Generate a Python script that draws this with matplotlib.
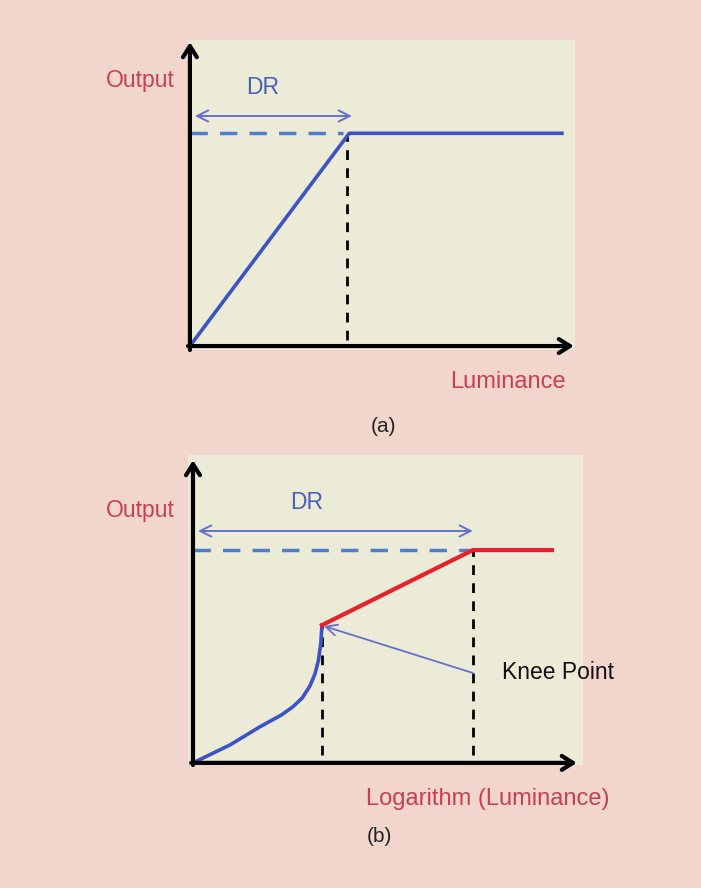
import matplotlib
matplotlib.use("Agg")
import matplotlib.pyplot as plt
from matplotlib.patches import Rectangle

plt.rcParams["font.family"] = ["Liberation Sans", "DejaVu Sans"]

# colours
BG = "#f2d5cc"
PANEL = "#ecebd8"
TXT_RED = "#c8404f"
BLUE = "#3d52c4"
BLUE_DASH = "#4f7fcc"
ARROW_BLUE = "#6670cc"
RED = "#e8202a"

# panel (a): linear response, clipped at saturation
a_x = [0.0, 4.09, 4.15, 9.69]
a_y = [0.0, 6.9, 7.0, 7.0]
a_knee_x = 4.09
a_sat_y = 7.0

# panel (b): log response with knee point
b_low_x = [0.0, 0.96, 1.74, 2.30, 2.60, 2.85, 3.05, 3.18, 3.27, 3.33, 3.36]
b_low_y = [0.0, 0.59, 1.19, 1.58, 1.85, 2.15, 2.55, 2.95, 3.40, 3.95, 4.55]
b_high_x = [3.36, 7.29, 9.35]
b_high_y = [4.55, 7.03, 7.03]
b_knee = (3.36, 4.55)
b_sat = (7.29, 7.03)


def axis_arrows(ax, ybot):
    kw = dict(arrowstyle="->,head_length=0.8,head_width=0.5", color="black", lw=3,
              shrinkA=0, shrinkB=0)
    ax.annotate("", xy=(0, 10.0), xytext=(0, ybot), arrowprops=kw, annotation_clip=False)
    ax.annotate("", xy=(10.0, 0), xytext=(-0.05, 0), arrowprops=kw, annotation_clip=False)


def dr_arrow(ax, x0, x1, y):
    ax.annotate("", xy=(x1, y), xytext=(x0, y),
                arrowprops=dict(arrowstyle="<->,head_length=0.8,head_width=0.4",
                                color=ARROW_BLUE, lw=1.4, shrinkA=0, shrinkB=0))


fig = plt.figure(figsize=(7.01, 8.88), dpi=100)
fig.patch.set_facecolor(BG)

# ---- panel (a)
ax = fig.add_axes([188 / 701, 1 - 350 / 888, 387 / 701, 310 / 888])
ax.set_xlim(-0.05, 10.03)
ax.set_ylim(-0.13, 10.07)
ax.axis("off")
ax.add_patch(Rectangle((-0.05, -0.13), 10.08, 10.2, facecolor=PANEL, edgecolor="none", zorder=0))
ax.plot([0, a_knee_x - 0.1], [a_sat_y, a_sat_y], color=BLUE_DASH, lw=2.5, dashes=(5, 3.5), zorder=2)
ax.plot([a_knee_x, a_knee_x], [0.2, a_y[1]], color="black", lw=2, dashes=(3.5, 3), zorder=2)
ax.plot(a_x, a_y, color=BLUE, lw=2.6, solid_joinstyle="round", zorder=3)
axis_arrows(ax, -0.13)
dr_arrow(ax, 0.13, 4.22, 7.57)
ax.text(1.9, 8.5, "DR", color="#4860b8", fontsize=16.5, ha="center", va="center")
ax.text(-1.3, 8.75, "Output", color=TXT_RED, fontsize=16.5, ha="center", va="center", clip_on=False)
ax.text(8.28, -1.18, "Luminance", color=TXT_RED, fontsize=17, ha="center", va="center", clip_on=False)
ax.text(5.03, -2.66, "(a)", color="#222222", fontsize=15, ha="center", va="center", clip_on=False)

# ---- panel (b)
bx = fig.add_axes([188 / 701, 1 - 765 / 888, 395 / 701, 310 / 888])
bx.set_xlim(-0.13, 10.16)
bx.set_ylim(-0.07, 10.17)
bx.axis("off")
bx.add_patch(Rectangle((-0.13, -0.07), 10.29, 10.24, facecolor=PANEL, edgecolor="none", zorder=0))
bx.plot([0, b_sat[0] - 0.1], [b_sat[1], b_sat[1]], color=BLUE_DASH, lw=2.5, dashes=(5, 3.5), zorder=2)
bx.plot([b_knee[0], b_knee[0]], [0.25, b_knee[1]], color="black", lw=2, dashes=(3.5, 3), zorder=2)
bx.plot([b_sat[0], b_sat[0]], [0.25, b_sat[1]], color="black", lw=2, dashes=(3.5, 3), zorder=2)
bx.plot(b_low_x, b_low_y, color=BLUE, lw=2.6, solid_joinstyle="round", zorder=3)
bx.plot(b_high_x, b_high_y, color=RED, lw=3, solid_joinstyle="round", zorder=3)
axis_arrows(bx, -0.07)
dr_arrow(bx, 0.13, b_sat[0], 7.66)
bx.annotate("", xy=(b_knee[0] + 0.05, b_knee[1] - 0.03), xytext=(b_sat[0], 2.97),
            arrowprops=dict(arrowstyle="->,head_length=0.8,head_width=0.4",
                            color=ARROW_BLUE, lw=1.3, shrinkA=0, shrinkB=0), zorder=4)
bx.text(2.97, 8.61, "DR", color="#4860b8", fontsize=16.5, ha="center", va="center")
bx.text(8.05, 2.97, "Knee Point", color="#111111", fontsize=16.5, ha="left", va="center", clip_on=False)
bx.text(-1.38, 8.35, "Output", color=TXT_RED, fontsize=16.5, ha="center", va="center", clip_on=False)
bx.text(7.68, -1.19, "Logarithm (Luminance)", color=TXT_RED, fontsize=17, ha="center",
        va="center", clip_on=False)
bx.text(4.87, -2.44, "(b)", color="#222222", fontsize=15, ha="center", va="center", clip_on=False)

fig.savefig("out.png", dpi=100, facecolor=BG)
